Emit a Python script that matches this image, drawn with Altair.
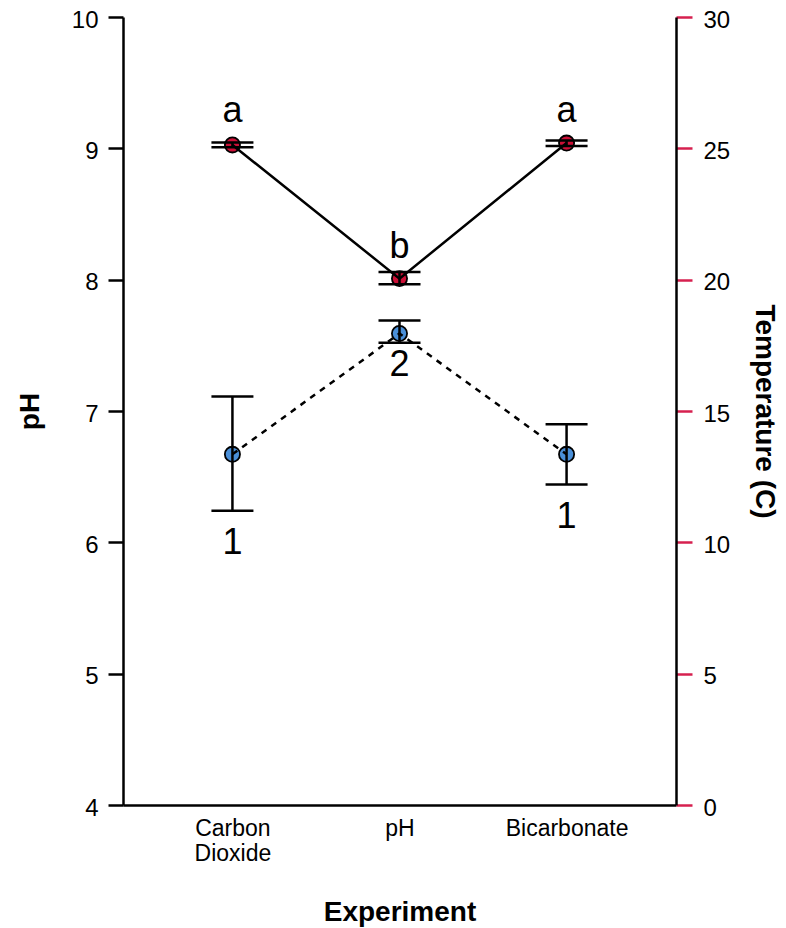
import altair as alt
import pandas as pd

experiments = ["Carbon Dioxide", "pH", "Bicarbonate"]

ph_mean = [6.67, 7.59, 6.67]
ph_lo = [6.24, 7.52, 6.44]
ph_hi = [7.11, 7.69, 6.90]
ph_labels = ["1", "2", "1"]
ph_label_y = [5.91, 7.27, 6.11]

temp_mean = [25.13, 20.04, 25.20]
temp_lo = [25.04, 19.83, 25.09]
temp_hi = [25.22, 20.29, 25.30]
temp_labels = ["a", "b", "a"]
temp_label_y = [26.0, 20.82, 26.0]

df = pd.DataFrame({
    "experiment": experiments,
    "ph_mean": ph_mean, "ph_lo": ph_lo, "ph_hi": ph_hi,
    "ph_label": ph_labels, "ph_label_y": ph_label_y,
    "t_mean": temp_mean, "t_lo": temp_lo, "t_hi": temp_hi,
    "t_label": temp_labels, "t_label_y": temp_label_y,
})

FONT = "Liberation Sans"
RED = "#cc1037"
BLUE = "#4a8fd8"
TICK_RED = "#d6204f"
LW = 2.5

x_enc = alt.X(
    "experiment:N",
    sort=experiments,
    scale=alt.Scale(type="point", padding=0.655),
    axis=alt.Axis(
        title="Experiment",
        titleFont=FONT, titleFontSize=28, titleFontWeight="bold", titleColor="black",
        titlePadding=33,
        labelFont=FONT, labelFontSize=23, labelColor="black", labelAngle=0,
        labelPadding=12, labelLineHeight=25,
        labelExpr="datum.value == 'Carbon Dioxide' ? ['Carbon', 'Dioxide'] : datum.value",
        ticks=False, tickSize=0,
        domainColor="black", domainWidth=LW,
    ),
)

ph_axis = alt.Axis(
    title="pH", values=[4, 5, 6, 7, 8, 9, 10],
    titleFont=FONT, titleFontSize=28, titleFontWeight="bold", titleColor="black",
    titlePadding=27,
    labelFont=FONT, labelFontSize=24, labelColor="black", labelPadding=10,
    labelOffset=3,
    tickSize=15, tickWidth=LW, tickColor="black",
    domainColor="black", domainWidth=LW, grid=False,
)
ph_scale = alt.Scale(domain=[4, 10], nice=False, zero=False)

t_axis = alt.Axis(
    title="Temperature (C)", orient="right", values=[0, 5, 10, 15, 20, 25, 30],
    titleFont=FONT, titleFontSize=28, titleFontWeight="bold", titleColor="black",
    titlePadding=20,
    labelFont=FONT, labelFontSize=24, labelColor="black", labelPadding=11,
    labelOffset=3,
    tickSize=16, tickWidth=LW, tickColor=TICK_RED,
    domainColor="black", domainWidth=LW, grid=False,
)
t_scale = alt.Scale(domain=[0, 30], nice=False, zero=False)

base = alt.Chart(df)


def yph(field):
    return alt.Y(f"{field}:Q", scale=ph_scale, axis=ph_axis)


def yt(field):
    return alt.Y(f"{field}:Q", scale=t_scale, axis=t_axis)


ph_points = base.mark_circle(size=230, color=BLUE, stroke="black", strokeWidth=1.8, opacity=1).encode(
    x=x_enc, y=yph("ph_mean"))
ph_rule = base.mark_rule(color="black", strokeWidth=LW).encode(
    x=x_enc, y=yph("ph_lo"), y2="ph_hi")
ph_cap_lo = base.mark_tick(color="black", size=42, thickness=LW, opacity=1).encode(
    x=x_enc, y=yph("ph_lo"))
ph_cap_hi = base.mark_tick(color="black", size=42, thickness=LW, opacity=1).encode(
    x=x_enc, y=yph("ph_hi"))
ph_line = base.mark_line(color="black", strokeWidth=LW, strokeDash=[6, 6]).encode(
    x=x_enc, y=yph("ph_mean"))
ph_text = base.mark_text(font=FONT, fontSize=36, color="black", baseline="alphabetic").encode(
    x=x_enc, y=yph("ph_label_y"), text="ph_label:N")

ph_layer = alt.layer(ph_points, ph_rule, ph_cap_lo, ph_cap_hi, ph_line, ph_text)

t_points = base.mark_circle(size=230, color=RED, stroke="black", strokeWidth=1.8, opacity=1).encode(
    x=x_enc, y=yt("t_mean"))
t_rule = base.mark_rule(color="black", strokeWidth=LW).encode(
    x=x_enc, y=yt("t_lo"), y2="t_hi")
t_cap_lo = base.mark_tick(color="black", size=42, thickness=LW, opacity=1).encode(
    x=x_enc, y=yt("t_lo"))
t_cap_hi = base.mark_tick(color="black", size=42, thickness=LW, opacity=1).encode(
    x=x_enc, y=yt("t_hi"))
t_line = base.mark_line(color="black", strokeWidth=LW).encode(
    x=x_enc, y=yt("t_mean"))
t_text = base.mark_text(font=FONT, fontSize=36, color="black", baseline="alphabetic").encode(
    x=x_enc, y=yt("t_label_y"), text="t_label:N")

t_layer = alt.layer(t_points, t_rule, t_cap_lo, t_cap_hi, t_line, t_text)

chart = alt.layer(ph_layer, t_layer).resolve_scale(y="independent").properties(
    width=553,
    height=788,
    autosize=alt.AutoSizeParams(type="none"),
    padding={"left": 115, "top": 9, "right": 102, "bottom": 130},
).configure_view(stroke=None)

chart.save("out.html", embed_options={"renderer": "svg", "actions": False})
